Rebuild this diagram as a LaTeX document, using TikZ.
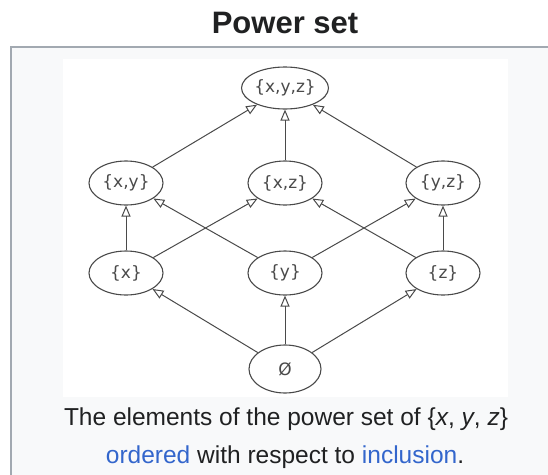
\documentclass[tikz,border=0pt]{standalone}
\usepackage{fontspec}
\setmainfont{Liberation Sans}
\newfontfamily\nodefont{DejaVu Sans}
\usetikzlibrary{arrows.meta,shapes.geometric}
\definecolor{wbg}{HTML}{F8F9FA}
\definecolor{wborder}{HTML}{A2A9B1}
\definecolor{wtext}{HTML}{202122}
\definecolor{wlink}{HTML}{3366CC}
\definecolor{edgec}{HTML}{4A4A4A}
\tikzset{
  setnode/.style={ellipse, draw=edgec, line width=1.1pt, fill=white, minimum width=74pt, minimum height=44pt, inner sep=0pt, font=\nodefont\fontsize{17}{19}\selectfont, text=edgec},
  incl/.style={draw=edgec, line width=1pt, -{Triangle[open, length=11pt, width=9pt, line width=1pt]}}
}
\begin{document}
\begin{tikzpicture}[x=1pt,y=-1pt]
\useasboundingbox (0,0) rectangle (548,474);
\fill[white] (0,0) rectangle (548,474);
\fill[wbg] (11,47) rectangle (549,475);
\draw[wborder, line width=1.6pt] (11,476) -- (11,47) -- (549,47);
\fill[white] (63,59) rectangle (508,397);
\node[font=\bfseries\fontsize{31}{34}\selectfont, text=wtext, anchor=base] (title) at (285,33) {Power set};
\node[setnode, minimum width=84pt, minimum height=42pt] (xyz) at (285,88) {\{x,y,z\}};
\node[setnode] (xy) at (126,183) {\{x,y\}};
\node[setnode] (xz) at (285,183) {\{x,z\}};
\node[setnode] (yz) at (443,183) {\{y,z\}};
\node[setnode] (x) at (126,273) {\{x\}};
\node[setnode] (y) at (285,273) {\{y\}};
\node[setnode] (z) at (443,273) {\{z\}};
\node[setnode, minimum width=72pt, minimum height=48pt] (e) at (285,369) {Ø};
\draw[incl] (e) -- (x);
\draw[incl] (e) -- (y);
\draw[incl] (e) -- (z);
\draw[incl] (x) -- (xy);
\draw[incl] (x) -- (xz);
\draw[incl] (y) -- (xy);
\draw[incl] (y) -- (yz);
\draw[incl] (z) -- (xz);
\draw[incl] (z) -- (yz);
\draw[incl] (xy) -- (xyz);
\draw[incl] (xz) -- (xyz);
\draw[incl] (yz) -- (xyz);
\node[font=\fontsize{24.5}{28}\selectfont, text=wtext, anchor=base] (cap1) at (286,425) {The elements of the power set of \{\textit{x}, \textit{y}, \textit{z}\}};
\node[font=\fontsize{24.5}{28}\selectfont, text=wtext, anchor=base] (cap2) at (285,463) {\textcolor{wlink}{ordered} with respect to \textcolor{wlink}{inclusion}.};
\end{tikzpicture}
\end{document}
